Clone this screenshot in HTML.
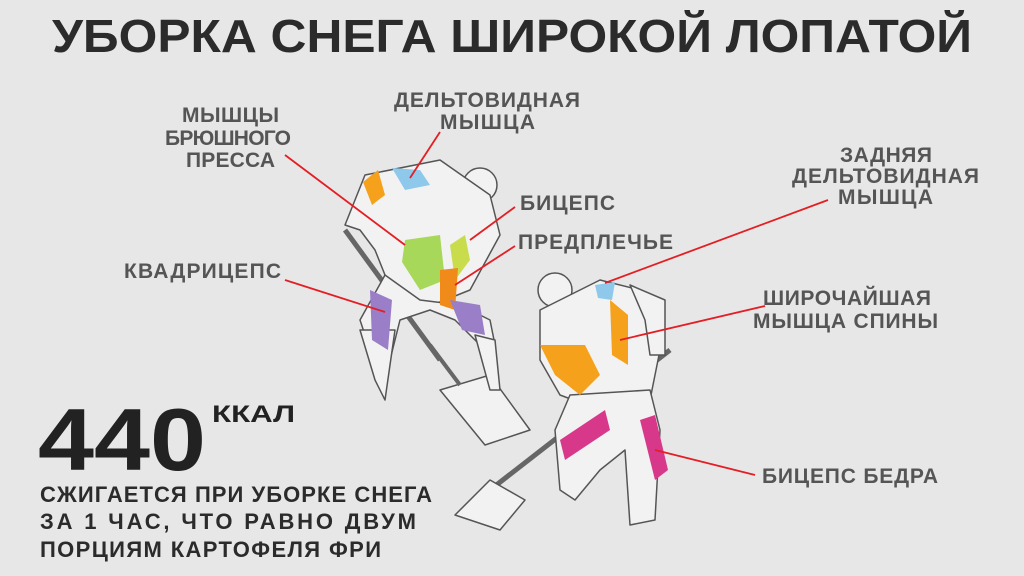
<!DOCTYPE html>
<html><head><meta charset="utf-8"><style>
html,body{margin:0;padding:0;background:#e7e7e7;}
svg{display:block}
text{font-family:"Liberation Sans",sans-serif;font-weight:bold}
</style></head><body>
<svg width="1024" height="576" viewBox="0 0 1024 576" xmlns="http://www.w3.org/2000/svg">
<rect width="1024" height="576" fill="#e7e7e7"/>
<text x="512" y="52" text-anchor="middle" font-size="46" fill="#2b2b2b" textLength="920" lengthAdjust="spacingAndGlyphs">УБОРКА СНЕГА ШИРОКОЙ ЛОПАТОЙ</text>

<g stroke="#555" stroke-width="1.5" fill="#f2f2f2" stroke-linejoin="round">
<!-- Figure 1 -->
<line x1="345" y1="230" x2="440" y2="360" stroke="#666" stroke-width="5"/>
<polygon points="440,390 490,375 530,430 485,445"/>
<line x1="430" y1="345" x2="460" y2="385" stroke="#666" stroke-width="4"/>
<circle cx="480" cy="185" r="17"/>
<polygon points="365,175 440,160 490,195 500,235 470,290 420,310 395,300 375,250 360,230 345,225"/>
<polygon points="385,275 420,300 460,305 490,320 495,345 480,345 455,320 430,310 400,320 390,360 370,350 360,320"/>
<polygon points="360,330 395,330 385,400 375,380"/>
<polygon points="475,335 495,340 500,390 490,390"/>
<!-- Figure 2 -->
<line x1="490" y1="490" x2="670" y2="350" stroke="#666" stroke-width="5"/>
<polygon points="455,515 490,480 525,500 500,530"/>
<circle cx="555" cy="290" r="17"/>
<polygon points="540,310 600,280 640,290 660,350 650,400 600,410 560,395 540,360"/>
<polygon points="570,395 650,390 660,430 655,520 630,525 625,450 600,470 575,500 560,490 555,430"/>
<polygon points="630,285 665,300 665,355 650,355 645,320"/>
</g>
<polygon points="363,182 378,170 385,195 372,205" fill="#f5a11c"/>
<polygon points="392,168 420,170 430,185 405,190" fill="#8ec9ec"/>
<polygon points="405,240 440,235 445,280 420,290 402,262" fill="#a8d85a"/>
<polygon points="450,245 465,235 470,260 455,280" fill="#c8dc4c"/>
<polygon points="440,270 458,268 455,310 440,305" fill="#f08a18"/>
<polygon points="370,290 392,300 388,350 372,340" fill="#9b7ec8"/>
<polygon points="450,300 480,305 485,335 462,330" fill="#9b7ec8"/>
<polygon points="595,285 615,282 612,300 598,298" fill="#8ec9ec"/>
<polygon points="540,345 585,345 600,375 580,395 555,375" fill="#f5a11c"/>
<polygon points="610,300 628,315 628,365 612,355" fill="#f5a11c"/>
<polygon points="560,440 605,410 610,430 565,460" fill="#d8388a"/>
<polygon points="640,420 655,415 668,470 655,480" fill="#d8388a"/>

<g stroke="#e31e24" stroke-width="1.8">
<line x1="285" y1="155" x2="405" y2="245"/>
<line x1="440" y1="132" x2="410" y2="178"/>
<line x1="515" y1="207" x2="470" y2="240"/>
<line x1="515" y1="246" x2="455" y2="285"/>
<line x1="285" y1="280" x2="385" y2="312"/>
<line x1="828" y1="200" x2="605" y2="283"/>
<line x1="765" y1="306" x2="620" y2="340"/>
<line x1="755" y1="475" x2="655" y2="450"/>
</g>

<g fill="#555" font-size="21" lengthAdjust="spacingAndGlyphs">
<text x="182" y="122" textLength="97">МЫШЦЫ</text>
<text x="165" y="145" textLength="126">БРЮШНОГО</text>
<text x="186" y="167" textLength="89">ПРЕССА</text>
<text x="394" y="107" textLength="186">ДЕЛЬТОВИДНАЯ</text>
<text x="440" y="129" textLength="95">МЫШЦА</text>
<text x="520" y="210" textLength="95">БИЦЕПС</text>
<text x="518" y="249" textLength="155">ПРЕДПЛЕЧЬЕ</text>
<text x="124" y="278" textLength="157">КВАДРИЦЕПС</text>
<text x="840" y="162" textLength="92">ЗАДНЯЯ</text>
<text x="792" y="183" textLength="187">ДЕЛЬТОВИДНАЯ</text>
<text x="838" y="204" textLength="95">МЫШЦА</text>
<text x="763" y="305" textLength="168">ШИРОЧАЙШАЯ</text>
<text x="753" y="328" textLength="185">МЫШЦА СПИНЫ</text>
<text x="762" y="483" textLength="176">БИЦЕПС БЕДРА</text>
</g>
<text x="38" y="470" font-size="88" fill="#222" textLength="168" lengthAdjust="spacingAndGlyphs">440</text>
<text x="212" y="422" font-size="24" fill="#222" textLength="83" lengthAdjust="spacingAndGlyphs">ККАЛ</text>
<g font-size="22" fill="#2b2b2b" lengthAdjust="spacingAndGlyphs">
<text x="40" y="502" textLength="392">СЖИГАЕТСЯ ПРИ УБОРКЕ СНЕГА</text>
<text x="40" y="529" textLength="376">ЗА 1 ЧАС, ЧТО РАВНО ДВУМ</text>
<text x="40" y="557" textLength="341">ПОРЦИЯМ КАРТОФЕЛЯ ФРИ</text>
</g>
</svg>
</body></html>
